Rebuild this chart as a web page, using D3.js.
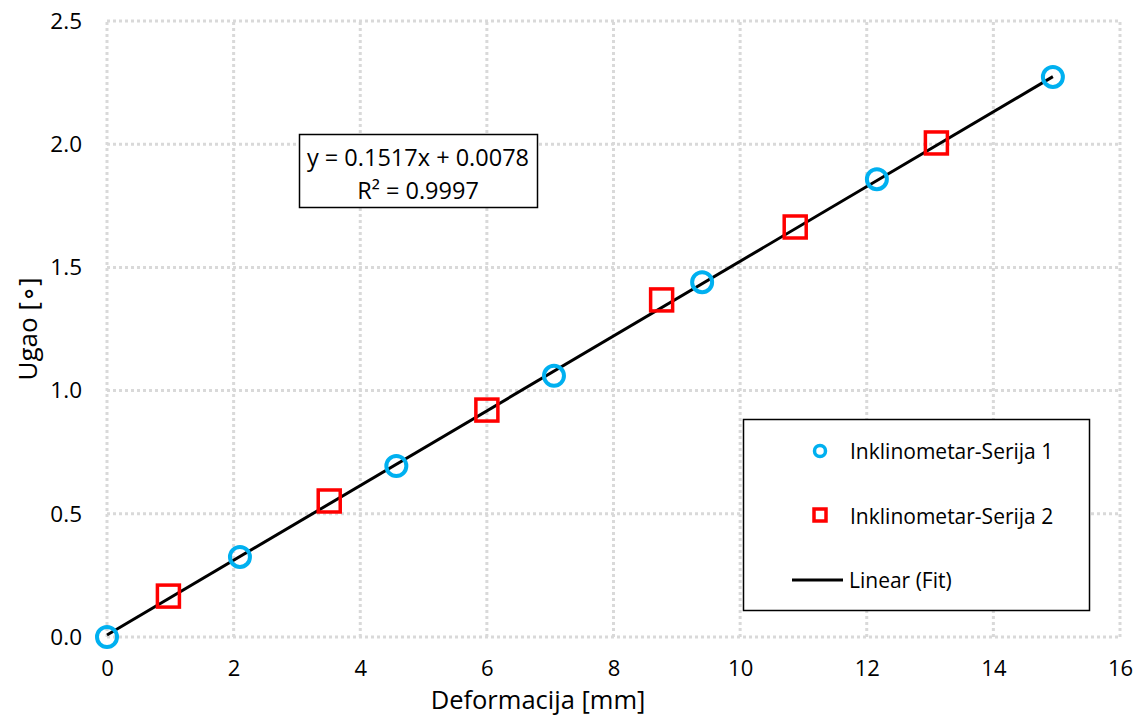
<!DOCTYPE html>
<html><head><meta charset="utf-8">
<script src="https://cdn.jsdelivr.net/npm/d3@7"></script>
<style>body{margin:0;background:#fff}svg{display:block;font-family:"Open Sans","Noto Sans",sans-serif}</style>
</head><body><svg id="c" width="1142" height="717"></svg>
<script>
const xTicks = [0,2,4,6,8,10,12,14,16];
const yTicks = [0,0.5,1.0,1.5,2.0,2.5];
const s1x = [0, 2.1, 4.57, 7.06, 9.4, 12.16, 14.94];
const s1y = [0, 0.325, 0.694, 1.06, 1.44, 1.858, 2.273];
const s2x = [0.97, 3.51, 6.0, 8.76, 10.87, 13.1];
const s2y = [0.166, 0.552, 0.921, 1.368, 1.664, 2.005];
const fitSlope = 0.1517, fitIntercept = 0.0078;
const fitRange = [0, 14.94];
const seriesNames = ["Inklinometar-Serija 1","Inklinometar-Serija 2","Linear (Fit)"];

const svg = d3.select("#c");
const x = d3.scaleLinear().domain([0,16]).range([107,1120]);
const y = d3.scaleLinear().domain([0,2.5]).range([637,21]);
const grid = "#d9d9d9";

// gridlines
svg.append("g").selectAll("line").data(xTicks).join("line")
  .attr("x1",d=>x(d)).attr("x2",d=>x(d)).attr("y1",y(0)).attr("y2",y(2.5))
  .attr("stroke",grid).attr("stroke-width",3).attr("stroke-dasharray","3,3");
svg.append("g").selectAll("line").data(yTicks).join("line")
  .attr("y1",d=>y(d)).attr("y2",d=>y(d)).attr("x1",x(0)).attr("x2",x(16))
  .attr("stroke",grid).attr("stroke-width",3).attr("stroke-dasharray","3,3");

// axes (labels only)
const xa = svg.append("g").attr("transform",`translate(0,${y(0)})`)
  .call(d3.axisBottom(x).tickValues(xTicks).tickSize(0).tickPadding(0).tickFormat(d3.format("d")));
xa.select(".domain").remove();
xa.selectAll("text").attr("font-size",22).attr("fill","#000").attr("font-family","Open Sans")
  .attr("y",39).attr("dy",null);
const ya = svg.append("g").attr("transform",`translate(${x(0)-25},0)`)
  .call(d3.axisLeft(y).tickValues(yTicks).tickSize(0).tickPadding(0).tickFormat(d3.format(".1f")));
ya.select(".domain").remove();
ya.selectAll("text").attr("font-size",22.5).attr("fill","#000").attr("font-family","Open Sans");

svg.append("text").attr("x",538).attr("y",709).attr("text-anchor","middle")
  .attr("font-size",25.5).text("Deformacija [mm]");
svg.append("text").attr("transform","translate(37,329) rotate(-90)").attr("text-anchor","middle")
  .attr("font-size",26).text("Ugao [∘]");

// fit line
svg.append("line").attr("x1",x(fitRange[0])).attr("y1",y(fitSlope*fitRange[0]+fitIntercept))
  .attr("x2",x(fitRange[1])).attr("y2",y(fitSlope*fitRange[1]+fitIntercept))
  .attr("stroke","#000").attr("stroke-width",3);

// series 1 circles
const d1 = s1x.map((v,i)=>[v,s1y[i]]);
svg.append("g").selectAll("circle").data(d1).join("circle")
  .attr("cx",d=>x(d[0])).attr("cy",d=>y(d[1])).attr("r",10)
  .attr("fill","none").attr("stroke","#00b0f0").attr("stroke-width",4);
// series 2 squares
const d2 = s2x.map((v,i)=>[v,s2y[i]]);
svg.append("g").selectAll("rect").data(d2).join("rect")
  .attr("x",d=>x(d[0])-11).attr("y",d=>y(d[1])-11).attr("width",22).attr("height",22)
  .attr("fill","none").attr("stroke","#ff0000").attr("stroke-width",3.5);

// equation box
svg.append("rect").attr("x",299.5).attr("y",134.5).attr("width",238).attr("height",73)
  .attr("fill","#fff").attr("stroke","#000").attr("stroke-width",1.5);
svg.append("text").attr("x",418).attr("y",166).attr("text-anchor","middle").attr("font-size",23.5)
  .text(`y = ${fitSlope}x + ${fitIntercept}`);
svg.append("text").attr("x",418).attr("y",199).attr("text-anchor","middle").attr("font-size",23.5)
  .text("R² = 0.9997");

// legend
svg.append("rect").attr("x",743.5).attr("y",419.5).attr("width",346).attr("height",191)
  .attr("fill","#fff").attr("stroke","#000").attr("stroke-width",1.5);
svg.append("circle").attr("cx",820).attr("cy",451).attr("r",5.5).attr("fill","none")
  .attr("stroke","#00b0f0").attr("stroke-width",3.5);
svg.append("rect").attr("x",814).attr("y",509).attr("width",12).attr("height",12).attr("fill","none")
  .attr("stroke","#ff0000").attr("stroke-width",3.5);
svg.append("line").attr("x1",792).attr("x2",843).attr("y1",580).attr("y2",580)
  .attr("stroke","#000").attr("stroke-width",3);
const ly = [459,524,588], lx = [850,850,849];
seriesNames.forEach((n,i)=>svg.append("text").attr("x",lx[i]).attr("y",ly[i]).attr("font-size",21).text(n));
</script></body></html>
